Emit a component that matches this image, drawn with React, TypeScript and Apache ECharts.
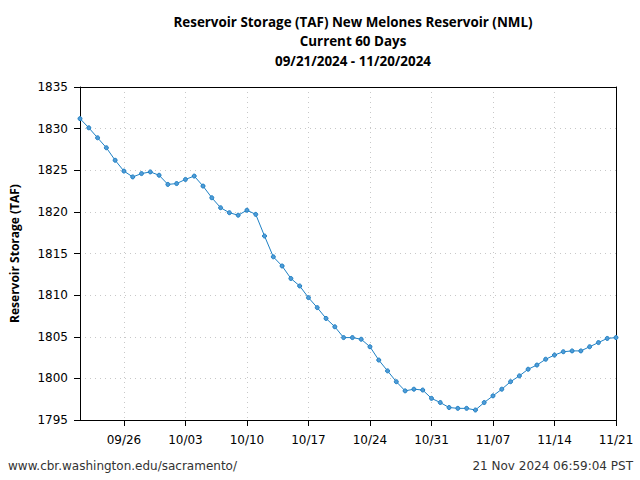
import React, { useEffect, useRef } from "react";
import * as echarts from "echarts";

const dates: string[] = [
  "09/21","09/22","09/23","09/24","09/25","09/26","09/27","09/28","09/29","09/30",
  "10/01","10/02","10/03","10/04","10/05","10/06","10/07","10/08","10/09","10/10",
  "10/11","10/12","10/13","10/14","10/15","10/16","10/17","10/18","10/19","10/20",
  "10/21","10/22","10/23","10/24","10/25","10/26","10/27","10/28","10/29","10/30",
  "10/31","11/01","11/02","11/03","11/04","11/05","11/06","11/07","11/08","11/09",
  "11/10","11/11","11/12","11/13","11/14","11/15","11/16","11/17","11/18","11/19",
  "11/20","11/21",
];

const storage: number[] = [
  1831.2, 1830.1, 1828.9, 1827.7, 1826.2, 1824.9, 1824.2, 1824.6, 1824.8, 1824.4,
  1823.3, 1823.4, 1823.9, 1824.3, 1823.1, 1821.7, 1820.5, 1819.9, 1819.6, 1820.2,
  1819.7, 1817.1, 1814.6, 1813.5, 1812.0, 1811.1, 1809.7, 1808.5, 1807.2, 1806.2,
  1804.9, 1804.9, 1804.7, 1803.8, 1802.2, 1800.9, 1799.6, 1798.5, 1798.7, 1798.6,
  1797.6, 1797.1, 1796.5, 1796.4, 1796.4, 1796.2, 1797.1, 1797.9, 1798.7, 1799.6,
  1800.3, 1801.1, 1801.6, 1802.3, 1802.8, 1803.2, 1803.3, 1803.3, 1803.8, 1804.3,
  1804.8, 1804.9,
];

const titleLines: string[] = [
  "Reservoir Storage (TAF) New Melones Reservoir (NML)",
  "Current 60 Days",
  "09/21/2024 - 11/20/2024",
];
const yAxisName = "Reservoir Storage (TAF)";
const footerLeft = "www.cbr.washington.edu/sacramento/";
const footerRight = "21 Nov 2024 06:59:04 PST";

const yMin = 1795;
const yMax = 1835;
const yStep = 5;
const firstTickIndex = 5;
const tickEvery = 7;

const isMajor = (i: number) => i >= firstTickIndex && (i - firstTickIndex) % tickEvery === 0;

export default function App() {
  const ref = useRef<HTMLDivElement>(null);
  useEffect(() => {
    if (!ref.current) return;
    const chart = echarts.init(ref.current, undefined, { renderer: "svg" });
    const frame = { show: true, lineStyle: { color: "#000", width: 1 } };
    chart.setOption({
      animation: false,
      backgroundColor: "#ffffff",
      title: {
        text: titleLines.join("\n"),
        left: 348,
        top: 7,
        textAlign: "center",
        textStyle: {
          fontFamily: "Open Sans",
          fontWeight: "bold",
          fontSize: 13.4,
          lineHeight: 19.5,
          color: "#000",
        },
      },
      grid: {
        left: 80,
        right: 24,
        top: 87,
        bottom: 60,
        show: false,
      },
      xAxis: [
        {
          type: "category",
          data: dates,
          boundaryGap: false,
          axisLine: frame,
          axisTick: {
            show: true,
            inside: false,
            length: 6,
            interval: (i: number) => isMajor(i),
            lineStyle: { color: "#000" },
          },
          axisLabel: {
            interval: (i: number) => isMajor(i),
            margin: 14,
            fontFamily: "DejaVu Sans",
            fontSize: 12,
            color: "#000",
          },
          splitLine: {
            show: true,
            interval: (i: number) => isMajor(i),
            lineStyle: { color: "#c8c8c8", type: [1, 4], width: 1 },
          },
          z: 3,
        },
        {
          type: "category",
          data: dates,
          boundaryGap: false,
          position: "top",
          axisLine: frame,
          axisTick: { show: false },
          axisLabel: { show: false },
          splitLine: { show: false },
          z: 3,
        },
      ],
      yAxis: [
        {
          type: "value",
          min: yMin,
          max: yMax,
          interval: yStep,
          name: yAxisName,
          nameLocation: "middle",
          nameGap: 60,
          nameTextStyle: {
            fontFamily: "Open Sans",
            fontWeight: "bold",
            fontSize: 12,
            color: "#000",
          },
          axisLine: frame,
          axisTick: { show: true, inside: false, length: 6, lineStyle: { color: "#000" } },
          axisLabel: {
            margin: 12,
            fontFamily: "DejaVu Sans",
            fontSize: 12,
            color: "#000",
            formatter: (v: number) => String(v),
          },
          splitLine: {
            show: true,
            lineStyle: { color: "#c8c8c8", type: [1, 4], width: 1 },
          },
          z: 3,
        },
        {
          type: "value",
          min: yMin,
          max: yMax,
          interval: yStep,
          position: "right",
          axisLine: frame,
          axisTick: { show: false },
          axisLabel: { show: false },
          splitLine: { show: false },
          z: 3,
        },
      ],
      series: [
        {
          type: "line",
          data: storage,
          xAxisIndex: 0,
          yAxisIndex: 0,
          symbol: "circle",
          symbolSize: 4,
          showSymbol: true,
          lineStyle: { color: "#1f80c4", width: 1 },
          itemStyle: { color: "#4f9bd6", borderColor: "#1f80c4", borderWidth: 1 },
          z: 4,
        },
      ],
      graphic: [
        {
          type: "text",
          left: 8,
          top: 460,
          style: {
            text: footerLeft,
            fontFamily: "DejaVu Sans",
            fontSize: 12,
            fill: "#333",
          },
        },
        {
          type: "text",
          right: 7,
          top: 460,
          style: {
            text: footerRight,
            fontFamily: "DejaVu Sans",
            fontSize: 12,
            fill: "#333",
          },
        },
      ],
    });
    return () => chart.dispose();
  }, []);
  return (
    <div
      ref={ref}
      style={{ position: "fixed", left: 0, top: 0, width: 640, height: 480 }}
    />
  );
}
